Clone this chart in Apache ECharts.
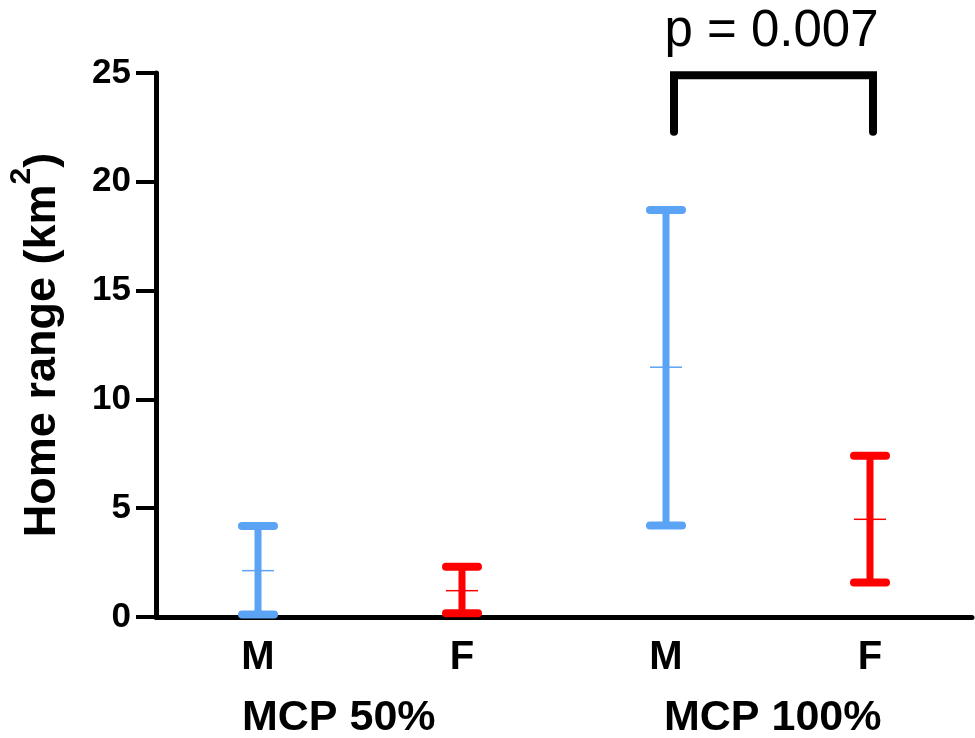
<!DOCTYPE html>
<html>
<head>
<meta charset="utf-8">
<script src="https://cdn.jsdelivr.net/npm/echarts@6/dist/echarts.min.js"></script>
<style>
  html, body { margin: 0; padding: 0; background: #fff; }
  #main { width: 975px; height: 738px; }
</style>
</head>
<body>
<div id="main"></div>
<script type="text/javascript">
    // values
    var categories = ['M', 'F', 'M', 'F'];
    var groups = ['MCP 50%', 'MCP 100%'];
    var lows  = [0.12, 0.17, 4.21, 1.59];
    var means = [2.13, 1.21, 11.48, 4.49];
    var highs = [4.18, 2.31, 18.70, 7.41];
    var yTicks = [0, 5, 10, 15, 20, 25];
    var pText = 'p = 0.007';
    var bracketTop = 24.9, bracketLeg = 22.3;

    var colors = ['#5ba3f5', '#ff0000', '#5ba3f5', '#ff0000'];

    var barData = [];
    for (var i = 0; i < categories.length; i++) {
        barData.push([i, lows[i], means[i], highs[i]]);
    }

    var dom = document.getElementById('main');
    var myChart = echarts.init(dom);

    function renderErrorBar(params, api) {
        var idx = api.value(0);
        var lo = api.coord([idx, api.value(1)]);
        var mid = api.coord([idx, api.value(2)]);
        var hi = api.coord([idx, api.value(3)]);
        var c = colors[params.dataIndex];
        var capHalf = 16, meanHalf = 16;
        return {
            type: 'group',
            children: [
                { type: 'line', shape: { x1: lo[0], y1: lo[1], x2: hi[0], y2: hi[1] },
                  style: { stroke: c, lineWidth: 7 } },
                { type: 'line', shape: { x1: hi[0] - capHalf, y1: hi[1], x2: hi[0] + capHalf, y2: hi[1] },
                  style: { stroke: c, lineWidth: 8, lineCap: 'round' } },
                { type: 'line', shape: { x1: lo[0] - capHalf, y1: lo[1], x2: lo[0] + capHalf, y2: lo[1] },
                  style: { stroke: c, lineWidth: 8, lineCap: 'round' } },
                { type: 'line', shape: { x1: mid[0] - meanHalf, y1: mid[1], x2: mid[0] + meanHalf, y2: mid[1] },
                  style: { stroke: c, lineWidth: 1.5 } }
            ]
        };
    }

    function renderBracket(params, api) {
        var a = api.coord([api.value(0), bracketTop]);
        var b = api.coord([api.value(1), bracketTop]);
        var legY = api.coord([api.value(0), bracketLeg])[1];
        var x1 = a[0] + 8, x2 = b[0] + 3;
        return {
            type: 'group',
            children: [
                { type: 'polyline',
                  shape: { points: [[x1, legY], [x1, a[1]], [x2, a[1]], [x2, legY]] },
                  style: { stroke: '#000', fill: null, lineWidth: 8, lineCap: 'round', lineJoin: 'miter' } },
                { type: 'text',
                  style: { text: pText, x: (x1 + x2) / 2 - 2, y: 32, align: 'center', verticalAlign: 'middle',
                           textAlign: 'center', textVerticalAlign: 'middle',
                           font: '51px "Liberation Sans", Arial, sans-serif', fill: '#000' } }
            ]
        };
    }

    var labelFont = '"Liberation Sans", Arial, sans-serif';

    option = {
        animation: false,
        backgroundColor: '#fff',
        grid: { left: 156, right: 3, top: 73, bottom: 121, containLabel: false, outerBoundsMode: 'none' },
        xAxis: {
            type: 'category',
            data: categories,
            boundaryGap: true,
            axisLine: { lineStyle: { color: '#000', width: 5 } },
            axisTick: { alignWithLabel: true, length: 15, lineStyle: { color: '#000', width: 4 } },
            axisLabel: { color: '#000', fontSize: 40, fontWeight: 'bold', fontFamily: labelFont, margin: 21 },
            splitLine: { show: false }
        },
        yAxis: {
            type: 'value',
            min: 0,
            max: 25,
            interval: 5,
            name: '{t|Home range (km}{sup|2}{t|)}',
            nameLocation: 'middle',
            nameGap: 91,
            nameRotate: 90,
            nameTextStyle: {
                color: '#000', fontSize: 45, fontWeight: 'bold', fontFamily: labelFont,
                rich: {
                    t: { fontSize: 45, fontWeight: 'bold', fontFamily: labelFont, color: '#000', verticalAlign: 'bottom' },
                    sup: { fontSize: 30, fontWeight: 'bold', fontFamily: labelFont, color: '#000', verticalAlign: 'top', padding: [0, 0, 28, 0] }
                }
            },
            axisLine: { show: true, lineStyle: { color: '#000', width: 5 } },
            axisTick: { show: true, length: 20, lineStyle: { color: '#000', width: 4 } },
            axisLabel: {
                color: '#000', fontSize: 35, fontWeight: 'bold', fontFamily: labelFont, margin: 25,
                formatter: function (v) { return yTicks.indexOf(v) >= 0 ? String(v) : ''; }
            },
            splitLine: { show: false }
        },
        graphic: [
            { type: 'text', left: 242, top: 697,
              style: { text: groups[0], font: 'bold 43px ' + labelFont, fill: '#000' } },
            { type: 'text', left: 664, top: 697,
              style: { text: groups[1], font: 'bold 43px ' + labelFont, fill: '#000' } }
        ],
        series: [
            {
                type: 'custom',
                name: 'range',
                renderItem: renderErrorBar,
                encode: { x: 0, y: [1, 2, 3] },
                data: barData,
                z: 5
            },
            {
                type: 'custom',
                name: 'bracket',
                renderItem: renderBracket,
                data: [[2, 3]],
                encode: { x: [0, 1] },
                clip: false,
                z: 5
            }
        ]
    };

    myChart.setOption(option, true);
</script>
</body>
</html>
